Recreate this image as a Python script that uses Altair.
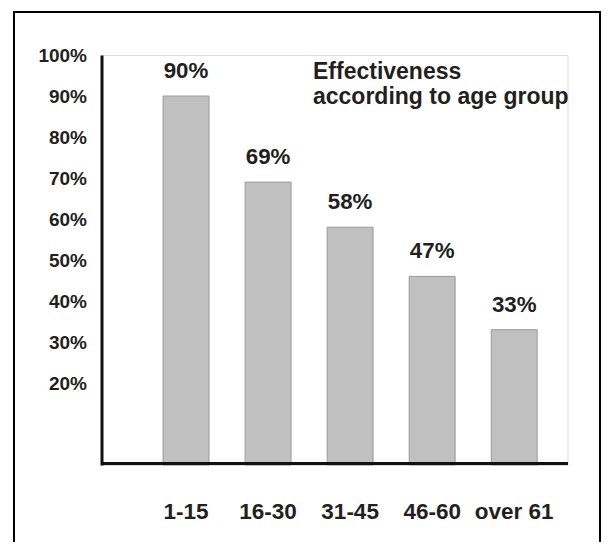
import altair as alt
import pandas as pd

# ---- data ----
groups = ["1-15", "16-30", "31-45", "46-60", "over 61"]
values = [90, 69, 58, 46, 33]
labels = ["90%", "69%", "58%", "47%", "33%"]
y_ticks = [20, 30, 40, 50, 60, 70, 80, 90, 100]
title_lines = ["Effectiveness", "according to age group"]

df = pd.DataFrame({"group": groups, "value": values, "label": labels})
one = pd.DataFrame({"k": [0]})

W, H = 466, 410
FONT = "Liberation Sans"
INK = "#231f20"

x_enc = alt.X(
    "group:N",
    sort=groups,
    scale=alt.Scale(paddingInner=0.44, paddingOuter=0.56, align=0.67),
    axis=alt.Axis(
        title=None, ticks=False, tickSize=0, labelAngle=0, labelPadding=37,
        labelFont=FONT, labelFontSize=22.5, labelFontWeight="bold", labelColor=INK,
        labelBaseline="top",
        domainColor="#111111", domainWidth=3, offset=-2, zindex=1,
    ),
)
y_enc = alt.Y(
    "value:Q",
    scale=alt.Scale(domain=[0, 100], nice=False, zero=True),
    axis=alt.Axis(
        title=None, values=y_ticks, ticks=False, tickSize=0, grid=False,
        labelExpr="datum.value + '%'", labelPadding=15,
        labelFont=FONT, labelFontSize=19, labelFontWeight="bold", labelColor=INK,
        domainColor="#111111", domainWidth=3, zindex=1,
    ),
)

frame = alt.Chart(one).mark_rect(filled=False, stroke="#000000", strokeWidth=2).encode(
    x=alt.value(-87.5), x2=alt.value(498.5), y=alt.value(-43), y2=alt.value(520)
)

bars = alt.Chart(df).mark_bar(color="#c0c0c0", stroke="#9a9a9a", strokeWidth=1).encode(
    x=x_enc, y=y_enc
)

bar_text = alt.Chart(df).mark_text(
    dy=-18, baseline="alphabetic", font=FONT, fontSize=22.3, fontWeight="bold", color=INK
).encode(x=alt.X("group:N", sort=groups), y="value:Q", text="label:N")

title_text = alt.Chart(one).mark_text(
    text=title_lines, align="left", baseline="alphabetic", font=FONT,
    fontSize=23, fontWeight="bold", lineHeight=25, color=INK,
).encode(x=alt.value(211.5), y=alt.value(24))

chart = alt.layer(frame, bars, bar_text, title_text).properties(
    width=W, height=H,
    autosize="none",
    padding={"left": 93.5, "top": 47, "right": 34.5, "bottom": 77},
).configure_view(stroke=None).configure(background="white")

chart.save("out.html", embed_options={"renderer": "svg", "actions": False})
